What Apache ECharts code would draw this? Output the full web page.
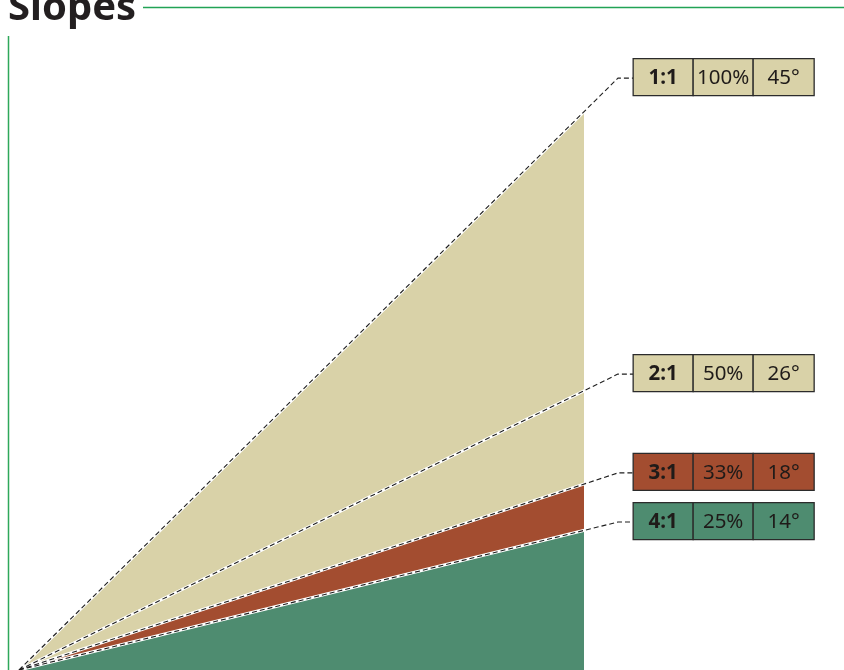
<!DOCTYPE html>
<html>
<head>
<meta charset="utf-8">
<script src="https://cdn.jsdelivr.net/npm/echarts@6/dist/echarts.min.js"></script>
<style>
html,body{margin:0;padding:0;background:#fff;}
#chart{width:844px;height:670px;}
</style>
</head>
<body>
<div id="chart"></div>
<script>
// ---- data ----
var slopeNames = ['1:1', '2:1', '3:1', '4:1'];
var percentLabels = ['100%', '50%', '33%', '25%'];
var degreeLabels = ['45°', '26°', '18°', '14°'];
var fillRun = 10;                       // horizontal run of the filled wedge
var riseAtFill = [10, 5, 3.33, 2.5];    // rise at the end of the filled wedge
var leaderRun = 10.6;                   // where the dashed leader bends
var riseAtLeader = [10.6, 5.3, 3.53, 2.65];
var boxRun = 10.87;                     // where the label box starts

var fillColors = ['#d9d2a8', '#d9d2a8', '#a34d30', '#4e8c70'];
var boxColors = ['#d9d2a8', '#d9d2a8', '#a34d30', '#4e8c70'];

var chart = echarts.init(document.getElementById('chart'));
var series = [];

// filled wedges (1:1 beige, 3:1 red, 4:1 green drawn on top of each other)
[0, 2, 3].forEach(function (i, k) {
  series.push({
    type: 'line', symbol: 'none', silent: true, z: 1 + k,
    data: [[0, 0], [fillRun, riseAtFill[i]]],
    lineStyle: { width: 0 },
    areaStyle: { color: fillColors[i], opacity: 1 }
  });
});

// leader lines
slopeNames.forEach(function (n, i) {
  var pts = [[0, 0], [leaderRun, riseAtLeader[i]], [boxRun, riseAtLeader[i]]];
  series.push({
    type: 'line', symbol: 'none', silent: true, z: 10,
    data: pts,
    lineStyle: { width: 3, color: '#ffffff', type: 'solid' }
  });
});
slopeNames.forEach(function (n, i) {
  var pts = [[0, 0], [leaderRun, riseAtLeader[i]], [boxRun, riseAtLeader[i]]];
  series.push({
    type: 'line', symbol: 'none', silent: true, z: 11,
    data: pts,
    lineStyle: { width: 1.1, color: '#1e1e1e', type: [5, 3] }
  });
});

// label boxes
var boxData = slopeNames.map(function (n, i) { return [boxRun, riseAtLeader[i], i]; });
series.push({
  type: 'custom', z: 20, silent: true,
  data: boxData,
  renderItem: function (params, api) {
    var idx = api.value(2);
    var p = api.coord([api.value(0), api.value(1)]);
    var widths = [60, 60, 61];
    var texts = [slopeNames[idx], percentLabels[idx], degreeLabels[idx]];
    var children = [];
    var x = p[0];
    var h = 37;
    var y = p[1] - h / 2 - 1;
    for (var c = 0; c < 3; c++) {
      children.push({
        type: 'rect',
        shape: { x: x, y: y, width: widths[c], height: h },
        style: { fill: boxColors[idx], stroke: '#2b2b2b', lineWidth: 1.3 }
      });
      children.push({
        type: 'text',
        style: {
          x: x + widths[c] / 2, y: y + h / 2 + 1,
          text: texts[c], align: 'center', verticalAlign: 'middle',
          fontFamily: 'Noto Sans', fontSize: 20.5,
          fontWeight: c === 0 ? 'bold' : 'normal',
          fill: '#1f1b19'
        }
      });
      x += widths[c];
    }
    return { type: 'group', children: children };
  }
});

chart.setOption({
  animation: false,
  backgroundColor: '#ffffff',
  grid: { left: 19, top: -4, width: 791, height: 678 },
  xAxis: { type: 'value', min: 0, max: 14, show: false },
  yAxis: { type: 'value', min: 0, max: 12, show: false },
  graphic: [
    { type: 'text', left: 8, top: -11, z: 50,
      style: { text: 'Slopes', fontFamily: 'Noto Sans', fontWeight: 'bold', fontSize: 40, fill: '#231f20' } },
    { type: 'line', z: 50, shape: { x1: 143, y1: 7.5, x2: 844, y2: 7.5 },
      style: { stroke: '#22a356', lineWidth: 1.3 } },
    { type: 'line', z: 50, shape: { x1: 8.5, y1: 36, x2: 8.5, y2: 670 },
      style: { stroke: '#2ea85a', lineWidth: 1.5 } }
  ],
  series: series
});
</script>
</body>
</html>
